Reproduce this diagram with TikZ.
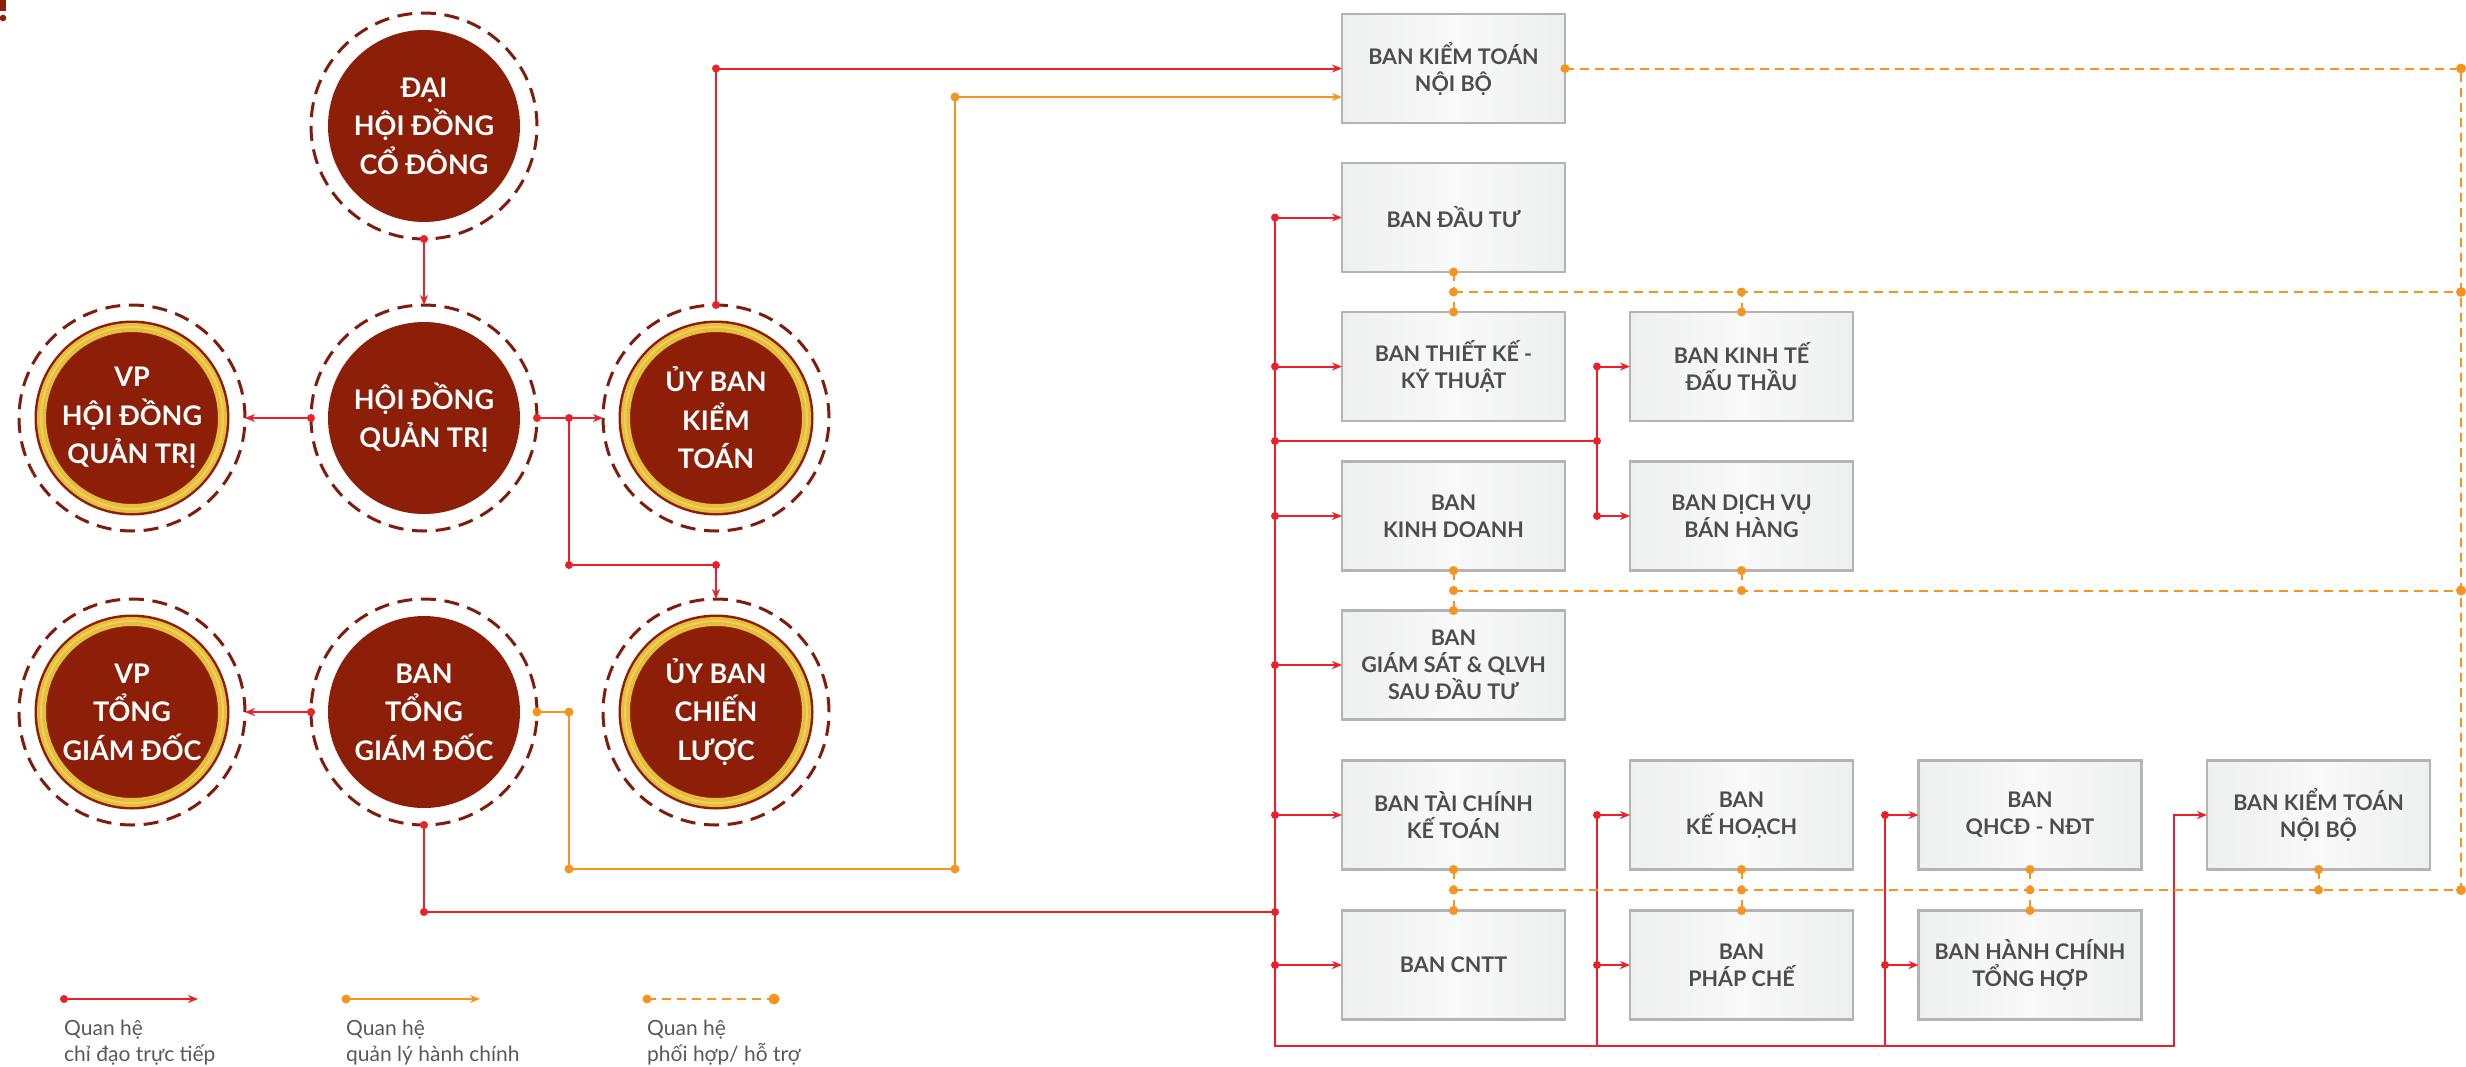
\documentclass[tikz,border=0pt]{standalone}
\usepackage{fontspec}
\setmainfont{Lato}
\usetikzlibrary{arrows.meta}
\definecolor{cred}{RGB}{141,31,9}
\definecolor{cdash}{RGB}{128,28,14}
\definecolor{lred}{RGB}{236,32,40}
\definecolor{lorange}{RGB}{247,148,29}
\definecolor{gold}{RGB}{229,190,62}
\definecolor{goldlt}{RGB}{240,208,90}
\definecolor{boxline}{RGB}{180,180,180}
\definecolor{boxfill}{RGB}{238,239,239}
\definecolor{boxmid}{RGB}{249,249,249}
\definecolor{boxtext}{RGB}{77,77,77}
\definecolor{legtext}{RGB}{88,89,91}
\newcommand\reddot[1]{\fill[lred] (#1) circle[radius=4pt];}
\newcommand\orgdot[1]{\fill[lorange] (#1) circle[radius=4.5pt];}
\tikzset{
  orgc/.style={circle, minimum size=226pt, inner sep=0pt, outer sep=0pt,
    draw=cdash, line width=3pt, dash pattern=on 15pt off 8.66pt,
    align=center, text=white, font=\bfseries\fontsize{27}{38.5}\selectfont,
    path picture={\fill[cred] (path picture bounding box.center) circle[radius=96pt];}},
  orgg/.style={orgc, path picture={
    \fill[cred] (path picture bounding box.center) circle[radius=97.5pt];
    \draw[gold, solid, line width=9pt] (path picture bounding box.center) circle[radius=90.5pt];
    \draw[goldlt, solid, line width=2pt] (path picture bounding box.center) circle[radius=91pt];}},
  deptbox/.style={rectangle, minimum width=223pt, minimum height=109pt, inner sep=0pt, outer sep=0pt,
    draw=boxline, line width=2.5pt, left color=boxfill, right color=boxfill, middle color=boxmid,
    align=center, text=boxtext, font=\bfseries\fontsize{21.5}{27}\selectfont},
  rl/.style={draw=lred, line width=2pt},
  ol/.style={draw=lorange, line width=2pt},
  od/.style={draw=lorange, line width=2pt, dash pattern=on 9pt off 6pt},
  arr/.style={-{Stealth[length=10pt,width=8pt]}},
  legt/.style={font=\fontsize{21}{26}\selectfont, text=legtext, inner sep=0pt, anchor=base west}
}
\begin{document}
\begin{tikzpicture}[x=1pt,y=-1pt]
\useasboundingbox (0,0) rectangle (2466,1066);
% corner mark
\fill[cred] (0,0) rectangle (6,11);
\fill[cred] (3,18) circle[radius=3.3pt];
% circles
\node[orgc] (dhcd) at (424,126) {ĐẠI\\HỘI ĐỒNG\\CỔ ĐÔNG};
\node[orgc] (hdqt) at (424,418) {HỘI ĐỒNG\\QUẢN TRỊ};
\node[orgg] (vphd) at (132,418) {VP\\HỘI ĐỒNG\\QUẢN TRỊ};
\node[orgg] (ubkt) at (716,418) {ỦY BAN\\KIỂM\\TOÁN};
\node[orgc] (btgd) at (424,712) {BAN\\TỔNG\\GIÁM ĐỐC};
\node[orgg] (vptgd) at (132,712) {VP\\TỔNG\\GIÁM ĐỐC};
\node[orgg] (ubcl) at (716,712) {ỦY BAN\\CHIẾN\\LƯỢC};
% boxes
\node[deptbox] (bktnb1) at (1453.5,68.5) {BAN KIỂM TOÁN\\NỘI BỘ};
\node[deptbox] (bdt) at (1453.5,217.5) {BAN ĐẦU TƯ};
\node[deptbox] (btk) at (1453.5,366.5) {BAN THIẾT KẾ -\\KỸ THUẬT};
\node[deptbox] (bkt) at (1741.5,366.5) {BAN KINH TẾ\\ĐẤU THẦU};
\node[deptbox] (bkd) at (1453.5,516) {BAN\\KINH DOANH};
\node[deptbox] (bdv) at (1741.5,516) {BAN DỊCH VỤ\\BÁN HÀNG};
\node[deptbox] (bgs) at (1453.5,665) {BAN\\GIÁM SÁT \& QLVH\\SAU ĐẦU TƯ};
\node[deptbox] (btc) at (1453.5,815) {BAN TÀI CHÍNH\\KẾ TOÁN};
\node[deptbox] (bkh) at (1741.5,815) {BAN\\KẾ HOẠCH};
\node[deptbox] (bqh) at (2030,815) {BAN\\QHCĐ - NĐT};
\node[deptbox] (bktnb2) at (2318.5,815) {BAN KIỂM TOÁN\\NỘI BỘ};
\node[deptbox] (bcntt) at (1453.5,965) {BAN CNTT};
\node[deptbox] (bpc) at (1741.5,965) {BAN\\PHÁP CHẾ};
\node[deptbox] (bhc) at (2030,965) {BAN HÀNH CHÍNH\\TỔNG HỢP};
% helper coordinates
\coordinate (jA) at (569,418);
\coordinate (jB) at (716,565);
\coordinate (o1) at (569,712);
\coordinate (o2) at (955,869);
\coordinate (oy) at (0,97);
\coordinate (busx) at (1275,0);
\coordinate (c2x) at (1597,0);
\coordinate (c3x) at (1885,0);
\coordinate (c4x) at (2174,0);
\coordinate (boty) at (0,1046);
\coordinate (gy) at (0,912);
\coordinate (bry) at (0,441);
\coordinate (rx) at (2461,0);
% left connectors
\draw[rl,arr] (dhcd.south) -- (hdqt.north);
\draw[rl,arr] (hdqt.west) -- (vphd.east);
\draw[rl,arr] (hdqt.east) -- (ubkt.west);
\draw[rl,arr] (jA) |- (jB) -- (ubcl.north);
\draw[rl,arr] (ubkt.north) |- (bktnb1.west);
\draw[rl,arr] (btgd.west) -- (vptgd.east);
\draw[ol,arr] (btgd.east) -- (o1) |- (o2) |- (bktnb1.west |- oy);
\draw[rl] (btgd.south) |- (busx |- gy);
\reddot{dhcd.south}
\reddot{hdqt.west}
\reddot{hdqt.east}
\reddot{jA}
\reddot{jA |- jB}
\reddot{jB}
\reddot{ubkt.north}
\reddot{ubkt.north |- bktnb1.west}
\reddot{btgd.west}
\reddot{btgd.south}
\reddot{btgd.south |- gy}
\reddot{busx |- gy}
\orgdot{btgd.east}
\orgdot{o1}
\orgdot{o1 |- o2}
\orgdot{o2}
\orgdot{o2 |- oy}
% red bus
\draw[rl,arr] (busx |- bdt.west) -- (busx |- boty) -- (c4x |- boty) |- (bktnb2.west);
\foreach \b in {bdt,btk,bkd,bgs,btc,bcntt} {
  \draw[rl,arr] (busx |- \b.west) -- (\b.west);
  \reddot{busx |- \b.west}
}
\draw[rl] (busx |- bry) -- (c2x |- bry);
\reddot{busx |- bry}
\reddot{c2x |- bry}
\draw[rl] (c2x |- bkt.west) -- (c2x |- bdv.west);
\draw[rl] (c2x |- bkh.west) -- (c2x |- boty);
\draw[rl] (c3x |- bqh.west) -- (c3x |- boty);
\foreach \b in {bkt,bdv,bkh,bpc} {
  \draw[rl,arr] (c2x |- \b.west) -- (\b.west);
  \reddot{c2x |- \b.west}
}
\foreach \b in {bqh,bhc} {
  \draw[rl,arr] (c3x |- \b.west) -- (\b.west);
  \reddot{c3x |- \b.west}
}
% orange dashed coordination
\path (bdt.south) -- (btk.north) coordinate[midway] (r1);
\path (bkd.south) -- (bgs.north) coordinate[midway] (r2);
\path (btc.south) -- (bcntt.north) coordinate[midway] (r3);
\draw[od] (bktnb1.east) -- (rx |- bktnb1.east) -- (rx |- r3);
\draw[od] (bdt.south) -- (btk.north);
\draw[od] (r1) -- (rx |- r1);
\draw[od] (bkt.north) -- (bkt.north |- r1);
\draw[od] (bkd.south) -- (bgs.north);
\draw[od] (r2) -- (rx |- r2);
\draw[od] (bdv.south) -- (bdv.south |- r2);
\draw[od] (btc.south) -- (bcntt.north);
\draw[od] (r3) -- (rx |- r3);
\draw[od] (bkh.south) -- (bpc.north);
\draw[od] (bqh.south) -- (bhc.north);
\draw[od] (bktnb2.south) -- (bktnb2.south |- r3);
\foreach \p in {bktnb1.east, bdt.south, r1, btk.north, bkt.north, bkt.north |- r1,
  bkd.south, r2, bgs.north, bdv.south, bdv.south |- r2,
  btc.south, r3, bcntt.north, bkh.south, bkh.south |- r3, bpc.north,
  bqh.south, bqh.south |- r3, bhc.north, bktnb2.south, bktnb2.south |- r3} {
  \orgdot{\p}
}
\foreach \p in {rx |- bktnb1.east, rx |- r1, rx |- r2, rx |- r3} {
  \fill[lorange] (\p) circle[radius=5pt];
}
% legend
\coordinate (la1) at (64,999);
\coordinate (la2) at (198,999);
\coordinate (lb1) at (346,999);
\coordinate (lb2) at (480,999);
\coordinate (lc1) at (647,999);
\coordinate (lc2) at (774,999);
\draw[rl,arr] (la1) -- (la2);
\reddot{la1}
\draw[ol,arr] (lb1) -- (lb2);
\orgdot{lb1}
\draw[od] (lc1) -- (lc2);
\orgdot{lc1}
\fill[lorange] (lc2) circle[radius=5.5pt];
\node[legt] (lt1a) at (64,1035) {Quan hệ};
\node[legt] (lt1b) at (64,1061) {chỉ đạo trực tiếp};
\node[legt] (lt2a) at (346,1035) {Quan hệ};
\node[legt] (lt2b) at (346,1061) {quản lý hành chính};
\node[legt] (lt3a) at (647,1035) {Quan hệ};
\node[legt] (lt3b) at (647,1061) {phối hợp/ hỗ trợ};
\end{tikzpicture}
\end{document}
